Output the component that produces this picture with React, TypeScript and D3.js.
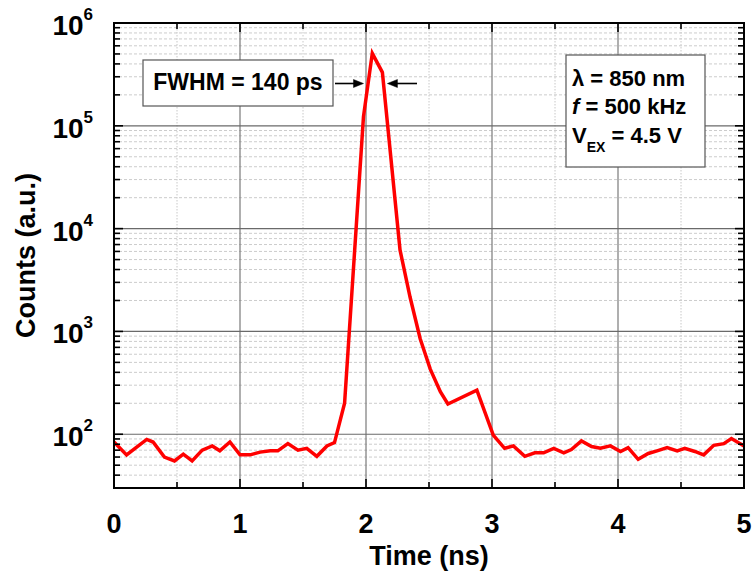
import { useEffect, useRef } from 'react'
import * as d3 from 'd3'

// time (ns) and counts (a.u.)
const times = [
  0, 0.1, 0.18, 0.26, 0.31, 0.4, 0.48, 0.55, 0.62, 0.7, 0.78, 0.84, 0.92, 1.0, 1.08, 1.16, 1.24, 1.3,
  1.38, 1.46, 1.53, 1.61, 1.69, 1.75, 1.83, 1.98, 2.05, 2.13, 2.27, 2.35, 2.43, 2.51, 2.59, 2.65, 2.88,
  3.01, 3.1, 3.17, 3.26, 3.34, 3.41, 3.49, 3.57, 3.63, 3.71, 3.79, 3.86, 3.94, 4.02, 4.08, 4.16, 4.24,
  4.31, 4.39, 4.47, 4.53, 4.61, 4.68, 4.76, 4.84, 4.9, 4.97, 5.0,
]
const counts = [
  84, 63, 75, 89, 84, 60, 55, 64, 55, 70, 77, 69, 84, 63, 63, 67, 69, 69,
  81, 70, 73, 61, 77, 83, 200, 123000, 507000, 331000, 6200, 2150, 850, 430, 259, 197, 269,
  98, 73, 77, 61, 66, 66, 73, 66, 71, 86, 76, 73, 77, 68, 74, 57, 65,
  69, 74, 69, 73, 68, 63, 78, 81, 91, 81, 77,
]

const xTickLabels = ['0', '1', '2', '3', '4', '5']
const yExponents = [6, 5, 4, 3, 2]
const fwhmLabel = 'FWHM = 140 ps'
const fwhmEdges = [1.98, 2.17] // ns, where the arrows point

const FONT = "'Liberation Sans', Arial, Helvetica, sans-serif"

export default function App() {
  const svgRef = useRef<SVGSVGElement | null>(null)

  useEffect(() => {
    if (!svgRef.current) return
    const width = 753
    const height = 578
    const left = 114
    const right = 744
    const top = 23
    const bottom = 488

    const svg = d3.select(svgRef.current).attr('width', width).attr('height', height)
    svg.selectAll('*').remove()

    svg.append('rect').attr('width', width).attr('height', height).attr('fill', '#fff')

    const x = d3.scaleLinear().domain([0, 5]).range([left, right])
    const y = d3.scaleLog().domain([30, 1e6]).range([bottom, top])

    const majorX = x.ticks(5)
    const minorX = x.ticks(10).filter(d => !Number.isInteger(d))
    const majorY = yExponents.map(e => Math.pow(10, e))
    const minorY = y.ticks().filter(d => Math.abs(Math.log10(d) - Math.round(Math.log10(d))) > 1e-6)

    const grid = svg.append('g')
    // minor grid
    grid.selectAll('.mx').data(minorX).enter().append('line')
      .attr('x1', d => x(d)).attr('x2', d => x(d)).attr('y1', top).attr('y2', bottom)
      .attr('stroke', '#c8c8c8').attr('stroke-width', 1).attr('stroke-dasharray', '1.5,1.5')
    grid.selectAll('.my').data(minorY).enter().append('line')
      .attr('x1', left).attr('x2', right).attr('y1', d => y(d)).attr('y2', d => y(d))
      .attr('stroke', '#cccccc').attr('stroke-width', 1).attr('stroke-dasharray', '3,2')
    // major grid
    grid.selectAll('.Mx').data(majorX.filter(d => d > 0 && d < 5)).enter().append('line')
      .attr('x1', d => x(d)).attr('x2', d => x(d)).attr('y1', top).attr('y2', bottom)
      .attr('stroke', '#7a7a7a').attr('stroke-width', 1.2)
    grid.selectAll('.My').data(majorY.filter(d => d < 1e6)).enter().append('line')
      .attr('x1', left).attr('x2', right).attr('y1', d => y(d)).attr('y2', d => y(d))
      .attr('stroke', '#6a6a6a').attr('stroke-width', 1.2)

    // trace
    const pts: [number, number][] = times.map((t, i) => [t, counts[i]])
    const line = d3.line<[number, number]>().x(d => x(d[0])).y(d => y(d[1]))
    svg.append('defs').append('clipPath').attr('id', 'plotclip')
      .append('rect').attr('x', left).attr('y', top).attr('width', right - left).attr('height', bottom - top)
    svg.append('path').datum(pts).attr('d', line).attr('clip-path', 'url(#plotclip)')
      .attr('fill', 'none').attr('stroke', '#ff0000').attr('stroke-width', 3.5)
      .attr('stroke-linejoin', 'miter')

    // FWHM box
    svg.append('rect').attr('x', 143).attr('y', 60).attr('width', 190).attr('height', 46)
      .attr('fill', '#fff').attr('stroke', '#555').attr('stroke-width', 1.2)
    svg.append('text').attr('x', 238).attr('y', 90).attr('text-anchor', 'middle')
      .style('font-family', FONT).style('font-weight', 'bold').style('font-size', '23px')
      .text(fwhmLabel)

    // FWHM arrows
    const ay = 83.5
    const arrows = svg.append('g').attr('fill', '#000').attr('stroke', '#000')
    const xl = x(fwhmEdges[0])
    const xr = x(fwhmEdges[1])
    arrows.append('line').attr('x1', 335).attr('x2', xl - 6).attr('y1', ay).attr('y2', ay).attr('stroke-width', 1.6)
    arrows.append('path').attr('d', `M${xl},${ay} L${xl - 10},${ay - 4} L${xl - 10},${ay + 4} Z`).attr('stroke-width', 0.5)
    arrows.append('line').attr('x1', xr + 6).attr('x2', 417).attr('y1', ay).attr('y2', ay).attr('stroke-width', 1.6)
    arrows.append('path').attr('d', `M${xr},${ay} L${xr + 10},${ay - 4} L${xr + 10},${ay + 4} Z`).attr('stroke-width', 0.5)

    // info box
    svg.append('rect').attr('x', 566).attr('y', 55).attr('width', 139).attr('height', 112)
      .attr('fill', '#fff').attr('stroke', '#555').attr('stroke-width', 1.2)
    const info = svg.append('g').style('font-family', FONT).style('font-weight', 'bold').style('font-size', '22px')
    info.append('text').attr('x', 572).attr('y', 86).text('λ = 850 nm')
    const fLine = info.append('text').attr('x', 572).attr('y', 114)
    fLine.append('tspan').style('font-style', 'italic').text('f')
    fLine.append('tspan').text(' = 500 kHz')
    const vLine = info.append('text').attr('x', 572).attr('y', 142.5)
    vLine.append('tspan').text('V')
    vLine.append('tspan').attr('dy', 9).style('font-size', '14px').text('EX')
    vLine.append('tspan').attr('dy', -9).text(' = 4.5 V')

    // frame
    svg.append('rect').attr('x', left).attr('y', top).attr('width', right - left).attr('height', bottom - top)
      .attr('fill', 'none').attr('stroke', '#000').attr('stroke-width', 2)

    // ticks
    const ticks = svg.append('g').attr('stroke', '#000').attr('stroke-width', 1.6)
    const majLen = 9
    const minLen = 6
    majorX.forEach(d => {
      ticks.append('line').attr('x1', x(d)).attr('x2', x(d)).attr('y1', bottom).attr('y2', bottom - majLen)
      ticks.append('line').attr('x1', x(d)).attr('x2', x(d)).attr('y1', top).attr('y2', top + majLen)
    })
    minorX.forEach(d => {
      ticks.append('line').attr('x1', x(d)).attr('x2', x(d)).attr('y1', bottom).attr('y2', bottom - minLen)
      ticks.append('line').attr('x1', x(d)).attr('x2', x(d)).attr('y1', top).attr('y2', top + minLen)
    })
    majorY.forEach(d => {
      ticks.append('line').attr('x1', left).attr('x2', left + majLen).attr('y1', y(d)).attr('y2', y(d))
      ticks.append('line').attr('x1', right).attr('x2', right - majLen).attr('y1', y(d)).attr('y2', y(d))
    })
    minorY.forEach(d => {
      ticks.append('line').attr('x1', left).attr('x2', left + minLen).attr('y1', y(d)).attr('y2', y(d))
      ticks.append('line').attr('x1', right).attr('x2', right - minLen).attr('y1', y(d)).attr('y2', y(d))
    })

    // x tick labels
    const labels = svg.append('g').style('font-family', FONT).style('font-weight', 'bold')
    labels.selectAll('.xl').data(xTickLabels).enter().append('text')
      .attr('x', (d, i) => x(majorX[i])).attr('y', 533).attr('text-anchor', 'middle')
      .style('font-size', '27px').text(d => d)

    // y tick labels
    yExponents.forEach(e => {
      const t = labels.append('text').attr('x', 93).attr('y', y(Math.pow(10, e)) + 12).attr('text-anchor', 'end')
      t.append('tspan').style('font-size', '28px').text('10')
      t.append('tspan').attr('dy', -15).style('font-size', '17px').text(String(e))
    })

    // axis titles
    labels.append('text').attr('x', (left + right) / 2).attr('y', 565).attr('text-anchor', 'middle')
      .style('font-size', '27px').text('Time (ns)')
    labels.append('text').attr('transform', `translate(35, ${(top + bottom) / 2}) rotate(-90)`)
      .attr('text-anchor', 'middle').style('font-size', '27px').text('Counts (a.u.)')
  }, [])

  return (
    <svg ref={svgRef} style={{ position: 'absolute', left: 0, top: 0, display: 'block' }}></svg>
  )
}
